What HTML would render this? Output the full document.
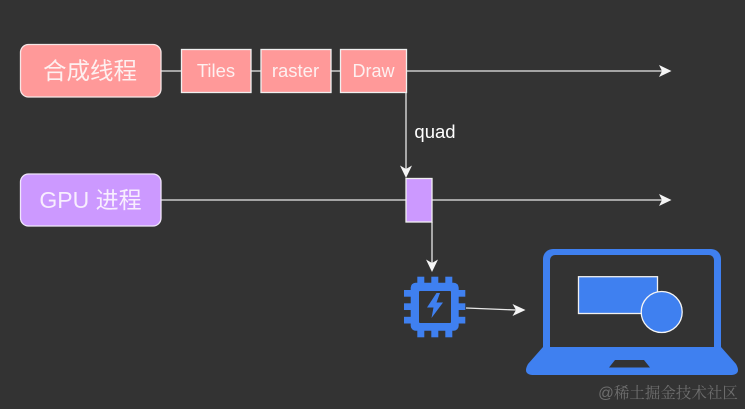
<!DOCTYPE html>
<html><head><meta charset="utf-8">
<style>html,body{margin:0;padding:0;background:#333;width:745px;height:409px;overflow:hidden}svg{display:block}text{font-family:"Liberation Sans","Noto Sans CJK SC",sans-serif;text-anchor:middle}</style>
</head><body>
<svg width="745" height="409" viewBox="0 0 745 409" xmlns="http://www.w3.org/2000/svg">
<rect width="745" height="409" fill="#333"/>
<g stroke="#e8e8e8" stroke-width="1.3" fill="none">
<path d="M161 71H181M251 71H261M331 71H341M406 71H662"/>
<path d="M161 200H406M432 200H662"/>
<path d="M406 93V170"/>
<path d="M432 222V264"/>
<path d="M466 308L516 310"/>
</g>
<g fill="#f5f5f5">
<path d="M671.500 71L659 65L662 71L659 77Z"/>
<path d="M671.500 200L659 194L662 200L659 206Z"/>
<path d="M406 178L400 165.500L406 169L412 165.500Z"/>
<path d="M432 272L426 259.500L432 263L438 259.500Z"/>
<path d="M525.500 310L512.500 304L516 310L512.500 316Z"/>
</g>
<rect x="20.500" y="44.500" width="140.500" height="52.500" rx="8" fill="#ff9999" stroke="#f5e6e6" stroke-width="1.300"/>
<rect x="181.500" y="49.500" width="69.500" height="43" fill="#ff9999" stroke="#f0f0f0" stroke-width="1.300"/>
<rect x="261" y="49.500" width="70" height="43" fill="#ff9999" stroke="#f0f0f0" stroke-width="1.300"/>
<rect x="340.500" y="49.500" width="66" height="43" fill="#ff9999" stroke="#f0f0f0" stroke-width="1.300"/>
<rect x="20.500" y="174" width="140.500" height="52" rx="8" fill="#cc99ff" stroke="#f0e6fa" stroke-width="1.300"/>
<rect x="406" y="178.500" width="26" height="43.500" fill="#cc99ff" stroke="#f0f0f0" stroke-width="1.300"/>
<g fill="#fff">
<text x="90" y="79" font-size="23.500" fill="#fdf0f0">合成线程</text>
<text x="216" y="77" font-size="18.500" fill="#fdf0f0">Tiles</text>
<text x="295.500" y="77" font-size="18.500" fill="#fdf0f0">raster</text>
<text x="373.500" y="77" font-size="18" fill="#fdf0f0">Draw</text>
<text x="90.500" y="208" font-size="23" fill="#f8eefe">GPU 进程</text>
<text x="435" y="138" font-size="18.500">quad</text>
</g>
<g fill="#3f80f0">
<rect x="417.300" y="276.700" width="7" height="60.600"/>
<rect x="431.300" y="276.700" width="7" height="60.600"/>
<rect x="445.300" y="276.700" width="7" height="60.600"/>
<rect x="404" y="290" width="61.300" height="6.700"/>
<rect x="404" y="303.300" width="61.300" height="6.700"/>
<rect x="404" y="316.800" width="61.300" height="6.700"/>
<rect x="410.700" y="282.700" width="48" height="48" rx="5"/>
<rect x="419" y="291" width="32" height="32" rx="1" fill="#333"/>
<path d="M436.500 293L427 307.500H433.500L431.500 318L443 302.500H436.500L440 293Z"/>
<path fill-rule="evenodd" d="M553 249H711a10 10 0 0 1 10 10V347L736 364Q742 375 730 375H534Q522 375 528 364L543 347V259a10 10 0 0 1 10-10ZM555 255a5 5 0 0 0-5 5V347H714V260a5 5 0 0 0-5-5ZM615 360L609 367.500H650L644 360Z"/>
<rect x="578.500" y="276.700" width="79" height="36.800" stroke="#f0f0f0" stroke-width="1.300"/>
<circle cx="661.700" cy="312" r="20.500" stroke="#f5f5f5" stroke-width="1.300"/>
</g>
<text x="668" y="398" font-size="15.500" fill="#6e6e6e" style="font-family:'Liberation Sans','Noto Serif CJK SC',serif">@稀土掘金技术社区</text>
</svg>
</body></html>
